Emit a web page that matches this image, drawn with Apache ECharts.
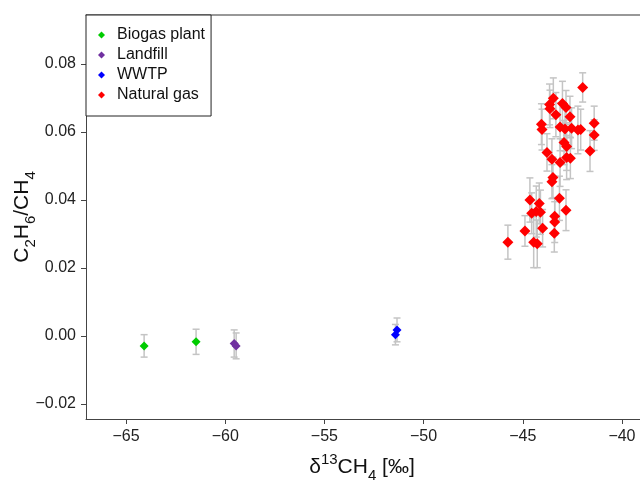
<!DOCTYPE html>
<html><head><meta charset="utf-8">
<script src="https://cdn.jsdelivr.net/npm/echarts@6/dist/echarts.min.js"></script>
<style>html,body{margin:0;padding:0;background:#fff}#c{width:640px;height:481px}</style>
</head><body><div id="c"></div>
<script>
const xTicks = [-65, -60, -55, -50, -45, -40];
const yTicks = [-0.02, 0, 0.02, 0.04, 0.06, 0.08];
const seriesNames = ['Biogas plant', 'Landfill', 'WWTP', 'Natural gas'];

const biogasX = [-64.09, -61.47];
const biogasY = [-0.0029, -0.0017];
const biogasErr = [0.0033, 0.0037];

const landfillX = [-59.55, -59.45];
const landfillY = [-0.0022, -0.0029];
const landfillErr = [0.0040, 0.0038];

const wwtpX = [-51.34, -51.42];
const wwtpY = [0.0018, 0.0004];
const wwtpErr = [0.0035, 0.0030];

const gasX = [-41.98, -43.46, -43.65, -43.63, -43.00, -42.82, -43.33, -42.62, -44.06, -44.03,
  -41.40, -41.40, -43.12, -42.87, -42.54, -42.22, -42.08, -42.92, -42.79, -43.78,
  -41.61, -43.53, -43.12, -42.79, -42.60, -43.48, -43.53, -43.15, -42.82, -44.64,
  -44.17, -44.55, -44.32, -44.11, -43.39, -43.39, -44.89, -44.00, -43.41, -45.75,
  -44.45, -44.27];
const gasY = [0.0731, 0.0699, 0.0681, 0.0668, 0.0684, 0.0672, 0.0651, 0.0645, 0.0623, 0.0607,
  0.0626, 0.0591, 0.0615, 0.0609, 0.0611, 0.0606, 0.0607, 0.0569, 0.0557, 0.0540,
  0.0544, 0.0520, 0.0510, 0.0525, 0.0523, 0.0466, 0.0454, 0.0405, 0.0370, 0.0400,
  0.0390, 0.0361, 0.0366, 0.0364, 0.0352, 0.0335, 0.0309, 0.0317, 0.0302, 0.0276,
  0.0276, 0.0271];
const gasErr = [0.0043, 0.0060, 0.0060, 0.0055, 0.0065, 0.0050, 0.0065, 0.0060, 0.0060, 0.0060,
  0.0050, 0.0045, 0.0070, 0.0065, 0.0060, 0.0070, 0.0060, 0.0065, 0.0070, 0.0055,
  0.0060, 0.0060, 0.0070, 0.0065, 0.0060, 0.0060, 0.0050, 0.0065, 0.0060, 0.0065,
  0.0060, 0.0060, 0.0075, 0.0065, 0.0055, 0.0060, 0.0045, 0.0055, 0.0055, 0.0050,
  0.0075, 0.0070];

const colors = ['#00cc00', '#7030a0', '#0000ff', '#ff0000'];
const FONT = '"Liberation Sans", Arial, sans-serif';

function pts(xs, ys) { return xs.map((x, i) => [x, ys[i]]); }
function errs(xs, ys, es) { return xs.map((x, i) => [x, ys[i], es[i]]); }
const allErr = [].concat(
  errs(biogasX, biogasY, biogasErr),
  errs(landfillX, landfillY, landfillErr),
  errs(wwtpX, wwtpY, wwtpErr),
  errs(gasX, gasY, gasErr)
);
const minusFmt = s => String(s).replace('-', '\u2212');

const chart = echarts.init(document.getElementById('c'), null, { renderer: 'canvas' });
const axisColor = '#444';
const richTitle = {
  n: { fontSize: 21, fontFamily: FONT, fill: '#111', lineHeight: 22, padding: [5, 0, 0, 0], verticalAlign: 'top' },
  p: { fontSize: 15, fontFamily: FONT, fill: '#111', lineHeight: 15, padding: [0, 0, 0, 0], verticalAlign: 'top' },
  s: { fontSize: 15, fontFamily: FONT, fill: '#111', lineHeight: 15, padding: [16, 0, 0, 0], verticalAlign: 'top' }
};
chart.setOption({
  animation: false,
  backgroundColor: '#fff',
  grid: { left: 86, right: 0, top: 15, bottom: 62, containLabel: false },
  xAxis: [{
    type: 'value', min: -67.02, max: -39.09, position: 'bottom',
    axisLine: { show: true, onZero: false, lineStyle: { color: axisColor, width: 1 } },
    axisTick: { show: true, length: 5, inside: false, customValues: xTicks, lineStyle: { color: axisColor } },
    axisLabel: { customValues: xTicks, formatter: v => minusFmt(Math.round(v)), fontSize: 16, fontFamily: FONT, color: '#222', margin: 10 },
    splitLine: { show: false }
  }, {
    type: 'value', min: -67.02, max: -39.09, position: 'top',
    axisLine: { show: true, onZero: false, lineStyle: { color: '#777', width: 1.5 } },
    axisTick: { show: false }, axisLabel: { show: false }, splitLine: { show: false }
  }],
  yAxis: {
    type: 'value', min: -0.0244, max: 0.0944,
    axisLine: { show: true, onZero: false, lineStyle: { color: axisColor, width: 1 } },
    axisTick: { show: true, length: 5, inside: false, customValues: yTicks, lineStyle: { color: axisColor } },
    axisLabel: { customValues: yTicks, formatter: v => minusFmt((Math.round(v * 100) / 100).toFixed(2)), fontSize: 16, fontFamily: FONT, color: '#222', margin: 10 },
    splitLine: { show: false }
  },
  legend: {
    orient: 'vertical', left: 86, top: 15,
    data: seriesNames,
    padding: [12, 6, 13, 12], itemGap: 4, itemWidth: 7, itemHeight: 7,
    backgroundColor: '#fff', borderColor: '#222', borderWidth: 1, borderRadius: 0,
    textStyle: { fontSize: 16, fontFamily: FONT, color: '#111', lineHeight: 16, padding: [0, 0, 0, 7] },
    selectedMode: false
  },
  graphic: [
    {
      type: 'text', x: 18, y: 217, rotation: Math.PI / 2, z: 10,
      style: {
        text: '{n|C}{s|2}{n|H}{s|6}{n|/CH}{s|4}',
        align: 'center', verticalAlign: 'middle', rich: richTitle
      }
    },
    {
      type: 'text', x: 362, y: 463, z: 10,
      style: {
        text: '{n|\u03b4}{p|13}{n|CH}{s|4}{n| [\u2030]}',
        align: 'center', verticalAlign: 'middle', rich: richTitle
      }
    }
  ],
  series: [
    {
      type: 'custom', name: 'errors', z: 1, silent: true,
      data: allErr, encode: { x: 0, y: 1 },
      renderItem: (params, api) => {
        const x = api.value(0), y = api.value(1), e = api.value(2);
        const t = api.coord([x, y + e]), b = api.coord([x, y - e]);
        const cw = 3.5;
        const st = { stroke: '#c4c4c4', lineWidth: 1.5 };
        return {
          type: 'group', children: [
            { type: 'line', shape: { x1: t[0], y1: t[1], x2: b[0], y2: b[1] }, style: st },
            { type: 'line', shape: { x1: t[0] - cw, y1: t[1], x2: t[0] + cw, y2: t[1] }, style: st },
            { type: 'line', shape: { x1: b[0] - cw, y1: b[1], x2: b[0] + cw, y2: b[1] }, style: st }
          ]
        };
      }
    },
    { type: 'scatter', name: seriesNames[0], data: pts(biogasX, biogasY), symbol: 'diamond', symbolSize: 9, itemStyle: { color: colors[0], opacity: 1 }, z: 3 },
    { type: 'scatter', name: seriesNames[1], data: pts(landfillX, landfillY), symbol: 'diamond', symbolSize: 9, itemStyle: { color: colors[1], opacity: 1 }, z: 3 },
    { type: 'scatter', name: seriesNames[2], data: pts(wwtpX, wwtpY), symbol: 'diamond', symbolSize: 9, itemStyle: { color: colors[2], opacity: 1 }, z: 3 },
    { type: 'scatter', name: seriesNames[3], data: pts(gasX, gasY), symbol: 'diamond', symbolSize: 11, itemStyle: { color: colors[3], opacity: 1 }, z: 3 }
  ]
});
</script>
</body></html>
